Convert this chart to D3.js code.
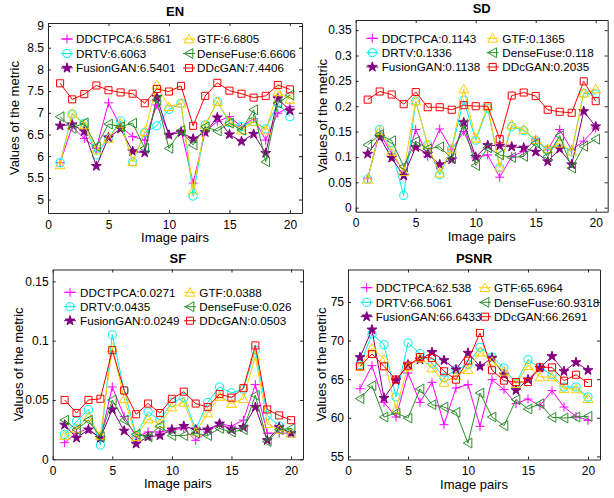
<!DOCTYPE html>
<html>
<head>
<meta charset="utf-8">
<script src="https://cdn.jsdelivr.net/npm/d3@7"></script>
<style>
  body { margin: 0; background: #fff; }
  svg text { font-family: "Liberation Sans", Arial, sans-serif; fill: #000; }
</style>
</head>
<body>
<div id="chart"></div>
<script>
// image pair index and axis ticks
const pairs = [1, 2, 3, 4, 5, 6, 7, 8, 9, 10, 11, 12, 13, 14, 15, 16, 17, 18, 19, 20];
const xTicks = [0, 5, 10, 15, 20];
const enTicks = [5, 5.5, 6, 6.5, 7, 7.5, 8, 8.5, 9];
const sdTicks = [0, 0.05, 0.1, 0.15, 0.2, 0.25, 0.3, 0.35];
const sfTicks = [0, 0.05, 0.1, 0.15];
const psnrTicks = [55, 60, 65, 70, 75];

// EN
const enDDCTPCA = [5.85, 6.68, 6.41, 6.18, 7.23, 6.68, 6.45, 6.37, 7.18, 6.50, 6.60, 5.38, 6.57, 6.80, 6.91, 6.68, 6.87, 6.37, 6.99, 7.14];
const enDRTV = [5.85, 6.97, 6.76, 6.03, 6.41, 6.81, 5.87, 6.54, 6.70, 7.08, 7.22, 5.08, 6.72, 7.26, 6.77, 6.68, 6.80, 6.63, 7.22, 6.91];
const enFusionGAN = [6.70, 6.73, 6.57, 5.77, 6.43, 6.63, 6.11, 6.08, 7.36, 6.49, 6.55, 6.40, 6.55, 6.89, 6.50, 6.34, 6.51, 6.07, 7.33, 7.05];
const enGTF = [5.80, 6.99, 6.72, 6.14, 6.41, 6.76, 5.87, 6.57, 7.64, 7.14, 7.22, 5.22, 6.72, 7.26, 6.80, 6.60, 6.80, 6.60, 7.49, 7.31];
const enDenseFuse = [6.91, 6.64, 6.77, 6.22, 6.74, 6.68, 6.76, 6.18, 7.30, 6.18, 6.59, 6.26, 6.68, 6.58, 6.76, 6.60, 7.07, 5.87, 7.22, 7.41];
const enDDcGAN = [7.68, 7.31, 7.43, 7.63, 7.52, 7.47, 7.44, 7.22, 7.55, 7.49, 7.62, 6.70, 7.39, 7.69, 7.51, 7.44, 7.35, 7.39, 7.64, 7.54];
const enLegend = ["DDCTPCA:6.5861", "DRTV:6.6063", "FusionGAN:6.5401", "GTF:6.6805", "DenseFuse:6.6606", "DDcGAN:7.4406"];

// SD
const sdDDCTPCA = [0.058, 0.147, 0.106, 0.072, 0.154, 0.101, 0.155, 0.114, 0.150, 0.098, 0.104, 0.060, 0.101, 0.111, 0.135, 0.114, 0.154, 0.114, 0.131, 0.157];
const sdDRTV = [0.056, 0.154, 0.113, 0.024, 0.210, 0.124, 0.065, 0.116, 0.212, 0.133, 0.196, 0.079, 0.160, 0.152, 0.132, 0.114, 0.124, 0.110, 0.225, 0.224];
const sdFusionGAN = [0.106, 0.139, 0.098, 0.063, 0.119, 0.106, 0.085, 0.095, 0.168, 0.100, 0.123, 0.122, 0.120, 0.118, 0.110, 0.091, 0.116, 0.085, 0.190, 0.160];
const sdGTF = [0.056, 0.152, 0.111, 0.071, 0.210, 0.124, 0.068, 0.116, 0.234, 0.137, 0.200, 0.080, 0.164, 0.154, 0.134, 0.116, 0.127, 0.111, 0.226, 0.234];
const sdDenseFuse = [0.124, 0.144, 0.132, 0.081, 0.131, 0.116, 0.120, 0.097, 0.164, 0.083, 0.118, 0.104, 0.099, 0.101, 0.127, 0.101, 0.142, 0.078, 0.121, 0.135];
const sdDDcGAN = [0.213, 0.229, 0.223, 0.204, 0.228, 0.198, 0.198, 0.193, 0.202, 0.200, 0.200, 0.135, 0.221, 0.227, 0.220, 0.193, 0.189, 0.187, 0.249, 0.210];
const sdLegend = ["DDCTPCA:0.1143", "DRTV:0.1336", "FusionGAN:0.1138", "GTF:0.1365", "DenseFuse:0.118", "DDcGAN:0.2035"];

// SF
const sfDDCTPCA = [0.014, 0.022, 0.026, 0.017, 0.061, 0.036, 0.019, 0.023, 0.023, 0.025, 0.026, 0.016, 0.023, 0.030, 0.028, 0.033, 0.063, 0.022, 0.022, 0.022];
const sfDRTV = [0.021, 0.032, 0.042, 0.012, 0.105, 0.058, 0.020, 0.040, 0.033, 0.048, 0.052, 0.025, 0.048, 0.061, 0.056, 0.059, 0.092, 0.037, 0.028, 0.022];
const sfFusionGAN = [0.029, 0.018, 0.025, 0.018, 0.042, 0.024, 0.013, 0.019, 0.020, 0.025, 0.028, 0.025, 0.025, 0.030, 0.025, 0.027, 0.044, 0.016, 0.027, 0.022];
const sfGTF = [0.020, 0.026, 0.036, 0.020, 0.094, 0.051, 0.019, 0.034, 0.030, 0.044, 0.048, 0.023, 0.039, 0.053, 0.047, 0.051, 0.087, 0.030, 0.025, 0.022];
const sfDenseFuse = [0.033, 0.025, 0.033, 0.019, 0.050, 0.033, 0.021, 0.019, 0.028, 0.020, 0.020, 0.022, 0.020, 0.026, 0.023, 0.025, 0.054, 0.015, 0.025, 0.026];
const sfDDcGAN = [0.050, 0.039, 0.050, 0.051, 0.092, 0.058, 0.038, 0.047, 0.039, 0.051, 0.057, 0.047, 0.044, 0.055, 0.052, 0.060, 0.096, 0.042, 0.037, 0.033];
const sfLegend = ["DDCTPCA:0.0271", "DRTV:0.0435", "FusionGAN:0.0249", "GTF:0.0388", "DenseFuse:0.026", "DDcGAN:0.0503"];

// PSNR
const psnrDDCTPCA = [63.77, 66.75, 62.00, 60.10, 65.80, 62.00, 64.59, 59.11, 63.86, 64.29, 58.89, 64.94, 63.64, 61.83, 62.43, 61.57, 63.51, 61.40, 60.19, 59.67];
const psnrDRTV = [66.88, 70.85, 69.47, 62.69, 69.69, 68.31, 67.10, 65.24, 66.23, 66.88, 69.13, 67.87, 66.45, 64.51, 67.53, 66.45, 65.58, 63.99, 63.99, 62.69];
const psnrFusionGAN = [67.83, 71.41, 62.56, 64.85, 66.88, 67.53, 68.48, 67.44, 66.23, 68.39, 66.66, 67.74, 65.58, 63.56, 64.94, 66.45, 67.96, 66.02, 67.18, 66.15];
const psnrGTF = [66.66, 69.04, 67.61, 61.14, 66.66, 67.74, 66.45, 64.59, 65.45, 66.23, 68.48, 67.31, 66.02, 64.42, 66.75, 65.28, 65.28, 63.77, 63.73, 62.48];
const psnrDenseFuse = [62.48, 64.16, 60.10, 60.62, 59.97, 63.73, 61.70, 61.40, 60.71, 56.73, 63.21, 60.10, 58.98, 62.35, 61.14, 61.83, 60.06, 59.97, 60.10, 60.19];
const psnrDDcGAN = [66.66, 68.26, 66.66, 64.94, 66.75, 67.87, 67.74, 66.02, 64.94, 67.40, 70.98, 66.15, 64.81, 64.63, 64.63, 66.53, 66.53, 64.81, 65.58, 64.51];
const psnrLegend = ["DDCTPCA:62.538", "DRTV:66.5061", "FusionGAN:66.6433", "GTF:65.6964", "DenseFuse:60.9318", "DDcGAN:66.2691"];

// styles for each method (same order as the legend arrays)
var styles = [
  { color: "#ff00ff", marker: "plus" },
  { color: "#00eeee", marker: "circle" },
  { color: "#800080", marker: "star" },
  { color: "#ffcc00", marker: "triangle" },
  { color: "#2a8f2a", marker: "left" },
  { color: "#ff0000", marker: "square" }
];

var panels = [
  { title: "EN", series: [enDDCTPCA, enDRTV, enFusionGAN, enGTF, enDenseFuse, enDDcGAN], legend: enLegend,
    yTicks: enTicks, yDomain: [4.69, 9.07], fmt: d3.format(""),
    left: 48, right: 302, top: 23, bottom: 213, ylabX: 19,
    legRows: [39, 53.5, 68], legMark: [67, 189], legText: [76, 197] },
  { title: "SD", series: [sdDDCTPCA, sdDRTV, sdFusionGAN, sdGTF, sdDenseFuse, sdDDcGAN], legend: sdLegend,
    yTicks: sdTicks, yDomain: [-0.008, 0.37], fmt: d3.format(""),
    left: 355.7, right: 607.7, top: 20, bottom: 211.7, ylabX: 327,
    legRows: [38.3, 52.7, 67], legMark: [372.3, 492.7], legText: [381.7, 502.3] },
  { title: "SF", series: [sfDDCTPCA, sfDRTV, sfFusionGAN, sfGTF, sfDenseFuse, sfDDcGAN], legend: sfLegend,
    yTicks: sfTicks, yDomain: [0, 0.16], fmt: d3.format(""),
    left: 52.7, right: 303, top: 269.5, bottom: 459.3, ylabX: 23,
    legRows: [292.3, 306.7, 320.7], legMark: [70, 190], legText: [80, 199.3] },
  { title: "PSNR", series: [psnrDDCTPCA, psnrDRTV, psnrFusionGAN, psnrGTF, psnrDenseFuse, psnrDDcGAN], legend: psnrLegend,
    yTicks: psnrTicks, yDomain: [54.6, 79.2], fmt: d3.format(""),
    left: 348, right: 600, top: 269.5, bottom: 459.5, ylabX: 326,
    legRows: [287.7, 302.3, 316.7], legMark: [366.7, 485], legText: [375.7, 494] }
];

var svg = d3.select("#chart").append("svg")
  .attr("width", 614)
  .attr("height", 498);

// marker path for a method
function markerPath(type) {
  if (type == "plus") return "M-4.5,0H4.5M0,-4.5V4.5";
  if (type == "circle") return d3.symbol(d3.symbolCircle, 52)();
  if (type == "square") return d3.symbol(d3.symbolSquare, 50)();
  if (type == "star") return d3.symbol(d3.symbolStar, 30)();
  return d3.symbol(d3.symbolTriangle, 42)();
}

function drawMarker(g, st, x, y) {
  var p = g.append("path")
    .attr("d", markerPath(st.marker))
    .attr("stroke", st.color)
    .attr("stroke-width", 1)
    .attr("fill", st.marker == "star" ? st.color : "none");
  var t = "translate(" + x + "," + y + ")";
  if (st.marker == "triangle") t += " translate(0,1)";
  if (st.marker == "left") t += " rotate(-90) translate(0,1)";
  p.attr("transform", t);
}

panels.forEach(function (p) {
  var x = d3.scaleLinear().domain([0, 21]).range([p.left, p.right]);
  var y = d3.scaleLinear().domain(p.yDomain).range([p.bottom, p.top]);
  var g = svg.append("g");

  // axes, ticks pointing inward on all four sides
  g.append("g")
    .attr("transform", "translate(0," + p.bottom + ")")
    .call(d3.axisBottom(x).tickValues(xTicks).tickSize(-3).tickPadding(7).tickSizeOuter(0));
  g.append("g")
    .attr("transform", "translate(0," + p.top + ")")
    .call(d3.axisTop(x).tickValues(xTicks).tickSize(-3).tickFormat("").tickSizeOuter(0));
  g.append("g")
    .attr("transform", "translate(" + p.left + ",0)")
    .call(d3.axisLeft(y).tickValues(p.yTicks).tickFormat(p.fmt).tickSize(-3).tickPadding(4).tickSizeOuter(0));
  g.append("g")
    .attr("transform", "translate(" + p.right + ",0)")
    .call(d3.axisRight(y).tickValues(p.yTicks).tickFormat("").tickSize(-3).tickSizeOuter(0));
  g.selectAll(".tick text").style("font-size", "12px").style("font-family", "Liberation Sans, Arial, sans-serif");
  g.selectAll(".domain, .tick line").attr("stroke", "#262626");

  // title and labels
  g.append("text")
    .attr("x", (p.left + p.right) / 2)
    .attr("y", p.top - 7)
    .attr("text-anchor", "middle")
    .style("font-size", "13px")
    .style("font-weight", "bold")
    .text(p.title);
  g.append("text")
    .attr("x", (p.left + p.right) / 2)
    .attr("y", p.bottom + 29)
    .attr("text-anchor", "middle")
    .style("font-size", "13px")
    .text("Image pairs");
  g.append("text")
    .attr("transform", "translate(" + p.ylabX + "," + (p.top + p.bottom) / 2 + ") rotate(-90)")
    .attr("text-anchor", "middle")
    .style("font-size", "13px")
    .text("Values of the metric");

  // lines
  var line = d3.line()
    .x(function (d, i) { return x(pairs[i]); })
    .y(function (d) { return y(d); });

  p.series.forEach(function (s, k) {
    var st = styles[k];
    g.append("path")
      .datum(s)
      .attr("d", line)
      .attr("fill", "none")
      .attr("stroke", st.color)
      .attr("stroke-width", 1);
    s.forEach(function (v, i) {
      drawMarker(g, st, x(pairs[i]), y(v));
    });
  });

  // legend, 3 rows x 2 columns, no box
  p.legend.forEach(function (label, k) {
    var col = Math.floor(k / 3), row = k % 3;
    var st = styles[k];
    var cx = p.legMark[col], cy = p.legRows[row];
    g.append("line")
      .attr("x1", cx - 6).attr("x2", cx + 6)
      .attr("y1", cy).attr("y2", cy)
      .attr("stroke", st.color)
      .attr("stroke-width", 1);
    drawMarker(g, st, cx, cy);
    g.append("text")
      .attr("x", p.legText[col])
      .attr("y", cy + 4.2)
      .style("font-size", "11.7px")
      .text(label);
  });
});
</script>
</body>
</html>
